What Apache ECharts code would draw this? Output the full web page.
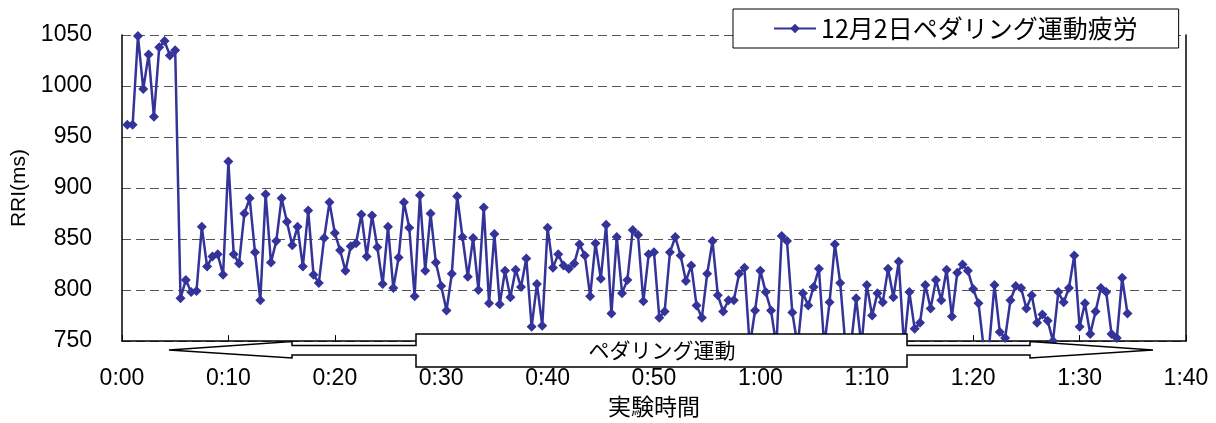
<!DOCTYPE html>
<html>
<head>
<meta charset="utf-8">
<script src="https://cdn.jsdelivr.net/npm/echarts@6/dist/echarts.min.js"></script>
<style>
  html, body { margin: 0; padding: 0; background: #fff; }
  #chart { width: 1216px; height: 423px; }
</style>
</head>
<body>
<div id="chart"></div>
<script>
// RRI (ms), one value every 30 s; values below 750 are hidden under the axis / arrow
const rriValues = [
  962, 962, 1049, 997, 1031, 970, 1038, 1044, 1030, 1035,
  792, 810, 798, 799, 862, 823, 833, 835, 815, 926,
  835, 826, 875, 890, 837, 790, 894, 827, 848, 890,
  867, 844, 862, 823, 878, 815, 807, 851, 886, 856,
  839, 819, 843, 846, 874, 833, 873, 842, 806, 862,
  802, 832, 886, 861, 794, 893, 819, 875, 827, 804,
  780, 816, 892, 852, 813, 851, 800, 881, 787, 855,
  786, 819, 793, 820, 803, 831, 764, 806, 765, 861,
  822, 835, 824, 821, 826, 845, 834, 794, 846, 811,
  864, 777, 852, 797, 810, 859, 854, 789, 835, 837,
  773, 779, 837, 852, 834, 809, 824, 785, 773, 816,
  848, 795, 779, 790, 790, 816, 822, 745, 780, 819,
  798, 780, 745, 853, 848, 778, 745, 797, 785, 803,
  821, 745, 788, 845, 807, 745, 745, 792, 745, 805,
  775, 797, 788, 821, 793, 828, 745, 798, 762, 768,
  805, 782, 810, 790, 820, 774, 817, 825, 819, 801,
  787, 742, 745, 805, 759, 753, 790, 804, 802, 782,
  795, 768, 776, 770, 750, 798, 788, 802, 834, 764,
  787, 757, 779, 802, 798, 757, 753, 812, 777
]
const sampleStep = 0.5 // minutes
const seriesName = "12月2日ペダリング運動疲労"
const yTicks = { min: 750, max: 1050, step: 50 }
const xTicks = { min: 0, max: 100, step: 10 }

const timeMinutes = rriValues.map((_, i) => (i + 1) * sampleStep)
const points = rriValues.map((v, i) => [timeMinutes[i], v])

const fmtTime = (m) => Math.floor(m / 60) + ":" + String(m % 60).padStart(2, "0")

const chartBox = echarts.init(document.getElementById("chart"))
const options = {
  animation: false,
  grid: { left: 122, right: 30, top: 35, bottom: 78 },
  legend: {
    left: 733,
    top: 9,
    padding: [7, 41, 7, 40],
    borderColor: "#000",
    borderWidth: 1,
    backgroundColor: "#fff",
    itemWidth: 42,
    itemHeight: 12,
    z: 10,
    textStyle: { fontSize: 25, fontFamily: "Noto Sans CJK JP", color: "#000" }
  },
  xAxis: {
    type: "value",
    min: xTicks.min,
    max: xTicks.max,
    interval: xTicks.step,
    name: "実験時間",
    nameLocation: "middle",
    nameGap: 50,
    nameTextStyle: { fontSize: 23, fontFamily: "Noto Sans CJK JP", color: "#000" },
    axisLine: { lineStyle: { color: "#000", width: 1.5 } },
    axisTick: { inside: true, length: 6, lineStyle: { color: "#000" } },
    axisLabel: {
      margin: 26,
      fontSize: 23,
      fontFamily: "Liberation Sans",
      color: "#000",
      formatter: fmtTime
    },
    splitLine: { show: false }
  },
  yAxis: [
    {
      type: "value",
      min: yTicks.min,
      max: yTicks.max,
      interval: yTicks.step,
      name: "RRI(ms)",
      nameLocation: "middle",
      nameGap: 86,
      nameTextStyle: { fontSize: 21, fontFamily: "Liberation Sans", color: "#000" },
      axisLine: { show: true, lineStyle: { color: "#000", width: 1.5 } },
      axisTick: { show: false },
      axisLabel: {
        margin: 30,
        fontSize: 23,
        fontFamily: "Liberation Sans",
        color: "#000",
        formatter: (v) => String(v)
      },
      splitLine: { lineStyle: { color: "#555", type: [9, 5], width: 1 } }
    },
    {
      type: "value",
      position: "right",
      min: yTicks.min,
      max: yTicks.max,
      interval: yTicks.step,
      axisLine: { show: true, lineStyle: { color: "#000", width: 1.5 } },
      axisTick: { show: false },
      axisLabel: { show: false },
      splitLine: { show: false }
    }
  ],
  series: [
    {
      name: seriesName,
      type: "line",
      data: points,
      clip: true,
      symbol: "diamond",
      symbolSize: 10,
      lineStyle: { color: "#333399", width: 2.5 },
      itemStyle: { color: "#333399" }
    }
  ],
  graphic: [
    {
      type: "polygon",
      z: 100,
      shape: {
        points: [
          [169, 350], [292, 341.5], [292, 345.5], [416, 345.5], [416, 334],
          [907, 334], [907, 345.5], [1030, 345.5], [1030, 341.5], [1153, 350],
          [1030, 358], [1030, 355], [907, 355], [907, 367], [416, 367],
          [416, 355], [292, 355], [292, 358]
        ]
      },
      style: { fill: "#fff", stroke: "#000", lineWidth: 1.5 }
    },
    {
      type: "text",
      z: 101,
      x: 662,
      y: 350,
      style: {
        text: "ペダリング運動",
        fontSize: 21,
        fontFamily: "Noto Sans CJK JP",
        fill: "#000",
        align: "center",
        verticalAlign: "middle"
      }
    }
  ]
}
chartBox.setOption(options)
</script>
</body>
</html>
